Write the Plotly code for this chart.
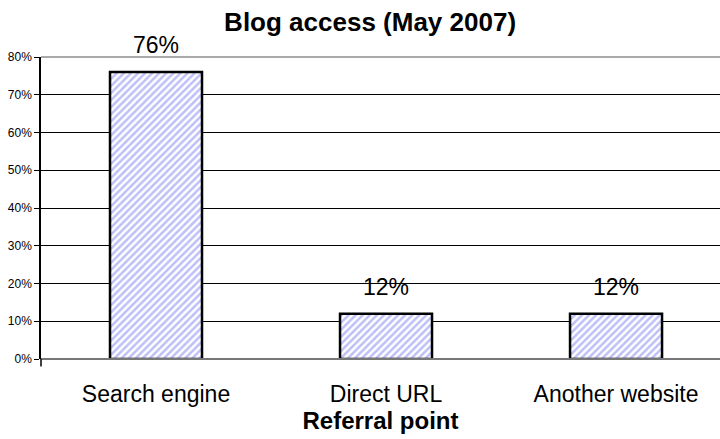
import plotly.graph_objects as go

categories = ["Search engine", "Direct URL", "Another website"]
values = [0.76, 0.12, 0.12]
labels = ["76%", "12%", "12%"]
y_ticks = [0, 0.1, 0.2, 0.3, 0.4, 0.5, 0.6, 0.7, 0.8]
y_tick_text = ["0%", "10%", "20%", "30%", "40%", "50%", "60%", "70%", "80%"]

FONT = "Liberation Sans, Arial, sans-serif"

fig = go.Figure()
fig.add_trace(go.Bar(
    x=categories, y=values, width=0.4,
    marker=dict(
        color="white",
        line=dict(color="black", width=2.5),
        pattern=dict(shape="/", fgcolor="#7f7ff0", bgcolor="white", size=5, solidity=0.5),
    ),
    hoverinfo="skip",
))

for c, v, t in zip(categories, values, labels):
    fig.add_annotation(x=c, y=v, text=t, showarrow=False, yshift=27,
                       font=dict(family=FONT, size=23, color="black"))

fig.update_layout(
    width=720, height=439,
    margin=dict(l=41, r=0, t=57, b=80),
    paper_bgcolor="white", plot_bgcolor="white",
    showlegend=False,
    title=dict(text="<b>Blog access (May 2007)</b>", x=0.514, xanchor="center",
               y=0.95, yanchor="middle",
               font=dict(family=FONT, size=26, color="black")),
    font=dict(family=FONT, color="black"),
)
fig.update_xaxes(
    range=[-0.5, 2.452], showgrid=False, showline=False,
    ticks="", tickfont=dict(size=23, family=FONT), ticklabelstandoff=19,
    title=dict(text="<b>Referral point</b>", font=dict(size=24, family=FONT), standoff=3),
)
fig.update_yaxes(
    range=[0, 0.8], tickvals=y_ticks, ticktext=y_tick_text,
    tickfont=dict(size=12, family=FONT), ticks="outside", ticklen=5, tickcolor="black",
    showgrid=True, gridcolor="black", gridwidth=1,
    showline=True, linecolor="black", linewidth=1.5,
    zeroline=False,
)
# top border line and baseline (gray)
fig.add_shape(type="line", xref="paper", yref="paper", x0=0, x1=1, y0=1, y1=1,
              line=dict(color="#aaaaaa", width=2))
fig.add_shape(type="line", xref="paper", yref="paper", x0=0, x1=1, y0=0, y1=0,
              line=dict(color="#777777", width=2), layer="above")
fig.add_shape(type="line", xref="paper", yref="paper", x0=0, x1=0, y0=0, y1=-0.025,
              line=dict(color="black", width=1.5))

fig.write_html("out.html")
